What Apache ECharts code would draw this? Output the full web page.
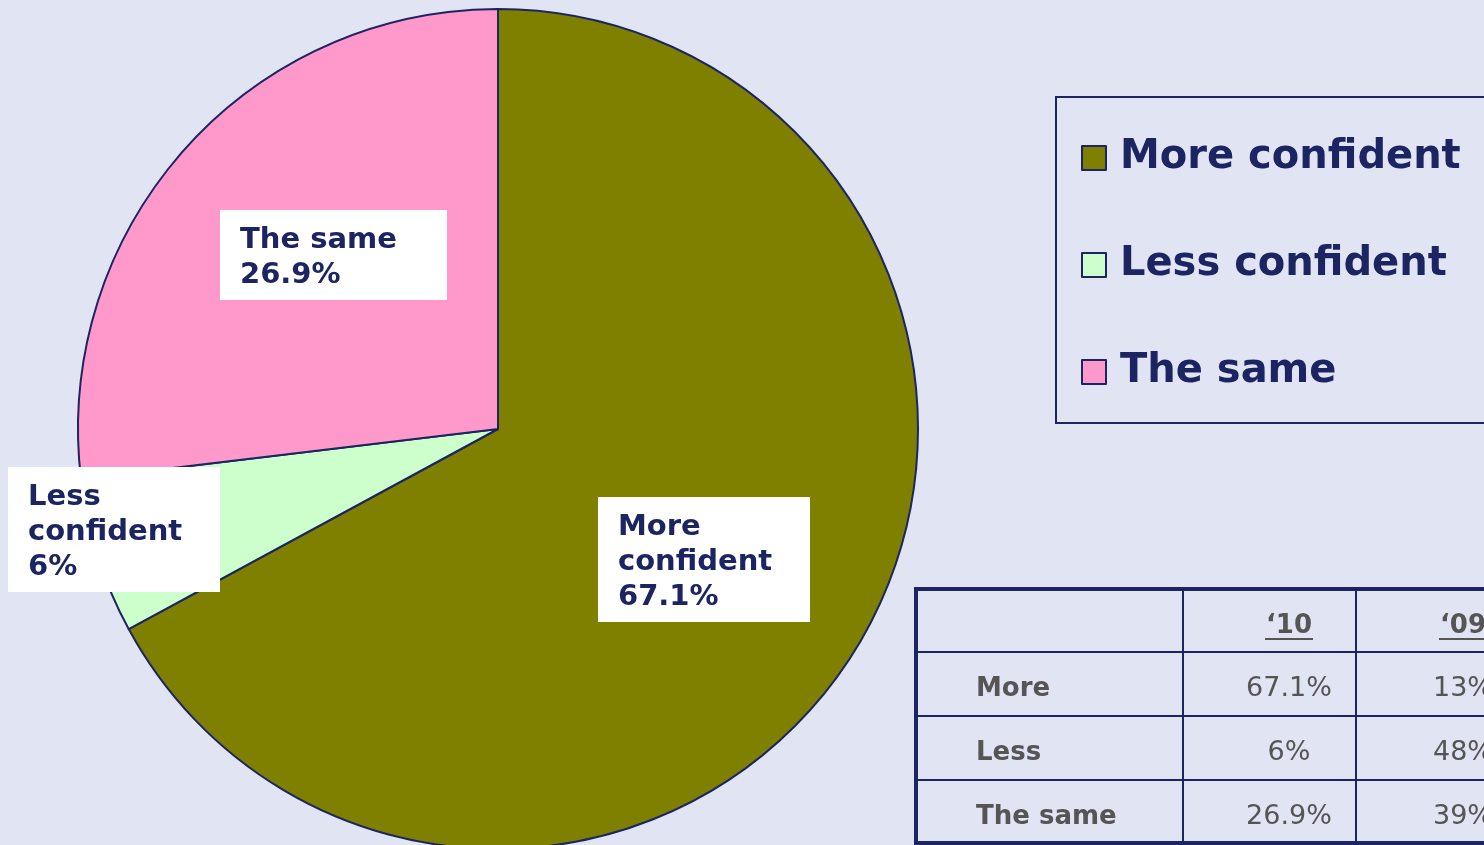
<!DOCTYPE html>
<html>
<head>
<meta charset="utf-8">
<script src="https://cdn.jsdelivr.net/npm/echarts@6/dist/echarts.min.js"></script>
<style>
  html, body { margin: 0; padding: 0; background: #e0e4f3; }
  #main { width: 1484px; height: 845px; }
</style>
</head>
<body>
<div id="main"></div>
<script>
  // pie data ('10)
  var categories = ['More confident', 'Less confident', 'The same'];
  var values10 = [67.1, 6, 26.9];
  var labelNames = ['More\nconfident', 'Less\nconfident', 'The same'];

  // table data
  var tableHeaders = ['', '\u201810', '\u201809'];
  var rowNames = ['More', 'Less', 'The same'];
  var values09 = [13, 48, 39];

  var navy = '#1c2461';
  var grey = '#555555';
  var colors = ['#808000', '#ccffcc', '#ff99cc'];

  // label box corners (top-left) and content widths
  var labelPos = [[598, 497], [8, 467], [220, 210]];
  var labelWidth = [192, 192, 207];

  var chart = echarts.init(document.getElementById('main'));

  // table layout
  var tLeft = 914, tTop = 587, colX = [914, 1183, 1356, 1570], rowY = [587, 652, 716, 780, 844];
  var graphics = [];
  graphics.push({
    type: 'rect', shape: { x: tLeft + 2, y: tTop + 2, width: 700, height: 254 },
    style: { fill: 'none', stroke: navy, lineWidth: 4 }
  });
  for (var r = 1; r < rowY.length - 1; r++) {
    graphics.push({ type: 'line', shape: { x1: tLeft, y1: rowY[r], x2: 1484, y2: rowY[r] }, style: { stroke: navy, lineWidth: 2 } });
  }
  for (var c = 1; c < 3; c++) {
    graphics.push({ type: 'line', shape: { x1: colX[c], y1: tTop, x2: colX[c], y2: 845 }, style: { stroke: navy, lineWidth: 2 } });
  }
  var colCenter = [0, 1289, 1463];
  for (var c = 1; c < 3; c++) {
    graphics.push({
      type: 'text', x: colCenter[c], y: 626,
      style: { text: tableHeaders[c], fill: grey, font: 'bold 26px "DejaVu Sans"', align: 'center', verticalAlign: 'middle' }
    });
    graphics.push({ type: 'line', shape: { x1: colCenter[c] - 24, y1: 639, x2: colCenter[c] + 24, y2: 639 }, style: { stroke: grey, lineWidth: 2 } });
  }
  for (var i = 0; i < rowNames.length; i++) {
    var cy = (rowY[i + 1] + rowY[i + 2]) / 2 + 5;
    graphics.push({
      type: 'text', x: 976, y: cy,
      style: { text: rowNames[i], fill: grey, font: 'bold 26px "DejaVu Sans"', align: 'left', verticalAlign: 'middle' }
    });
    graphics.push({
      type: 'text', x: colCenter[1], y: cy,
      style: { text: values10[i] + '%', fill: grey, font: '27px "DejaVu Sans"', align: 'center', verticalAlign: 'middle' }
    });
    graphics.push({
      type: 'text', x: colCenter[2], y: cy,
      style: { text: values09[i] + '%', fill: grey, font: '27px "DejaVu Sans"', align: 'center', verticalAlign: 'middle' }
    });
  }

  var option = {
    backgroundColor: '#e0e4f3',
    color: colors,
    animation: false,
    legend: {
      orient: 'vertical',
      left: 1056,
      top: 97,
      data: categories,
      icon: 'rect',
      itemWidth: 24,
      itemHeight: 24,
      itemGap: 59,
      padding: [37, 200, 27, 25],
      borderColor: navy,
      borderWidth: 2,
      itemStyle: { borderColor: navy, borderWidth: 2 },
      textStyle: {
        color: navy,
        fontSize: 40,
        fontWeight: 'bold',
        fontFamily: 'DejaVu Sans',
        lineHeight: 48,
        padding: [0, 0, 0, 9]
      }
    },
    series: [{
      type: 'pie',
      center: [498, 429],
      radius: 420,
      startAngle: 90,
      clockwise: true,
      silent: true,
      itemStyle: { borderColor: navy, borderWidth: 2 },
      label: {
        show: true,
        position: 'inside',
        formatter: function (p) {
          return labelNames[p.dataIndex] + '\n' + p.value + '%';
        },
        color: navy,
        fontSize: 29,
        fontWeight: 'bold',
        fontFamily: 'DejaVu Sans',
        lineHeight: 35,
        align: 'left',
        padding: [13, 0, 7, 20],
        backgroundColor: '#ffffff'
      },
      labelLine: { show: false },
      labelLayout: function (p) {
        return { x: labelPos[p.dataIndex][0], y: labelPos[p.dataIndex][1], align: 'left', verticalAlign: 'top' };
      },
      data: categories.map(function (name, i) {
        return { name: name, value: values10[i], label: { width: labelWidth[i] } };
      })
    }],
    graphic: graphics
  };
  chart.setOption(option);
</script>
</body>
</html>
